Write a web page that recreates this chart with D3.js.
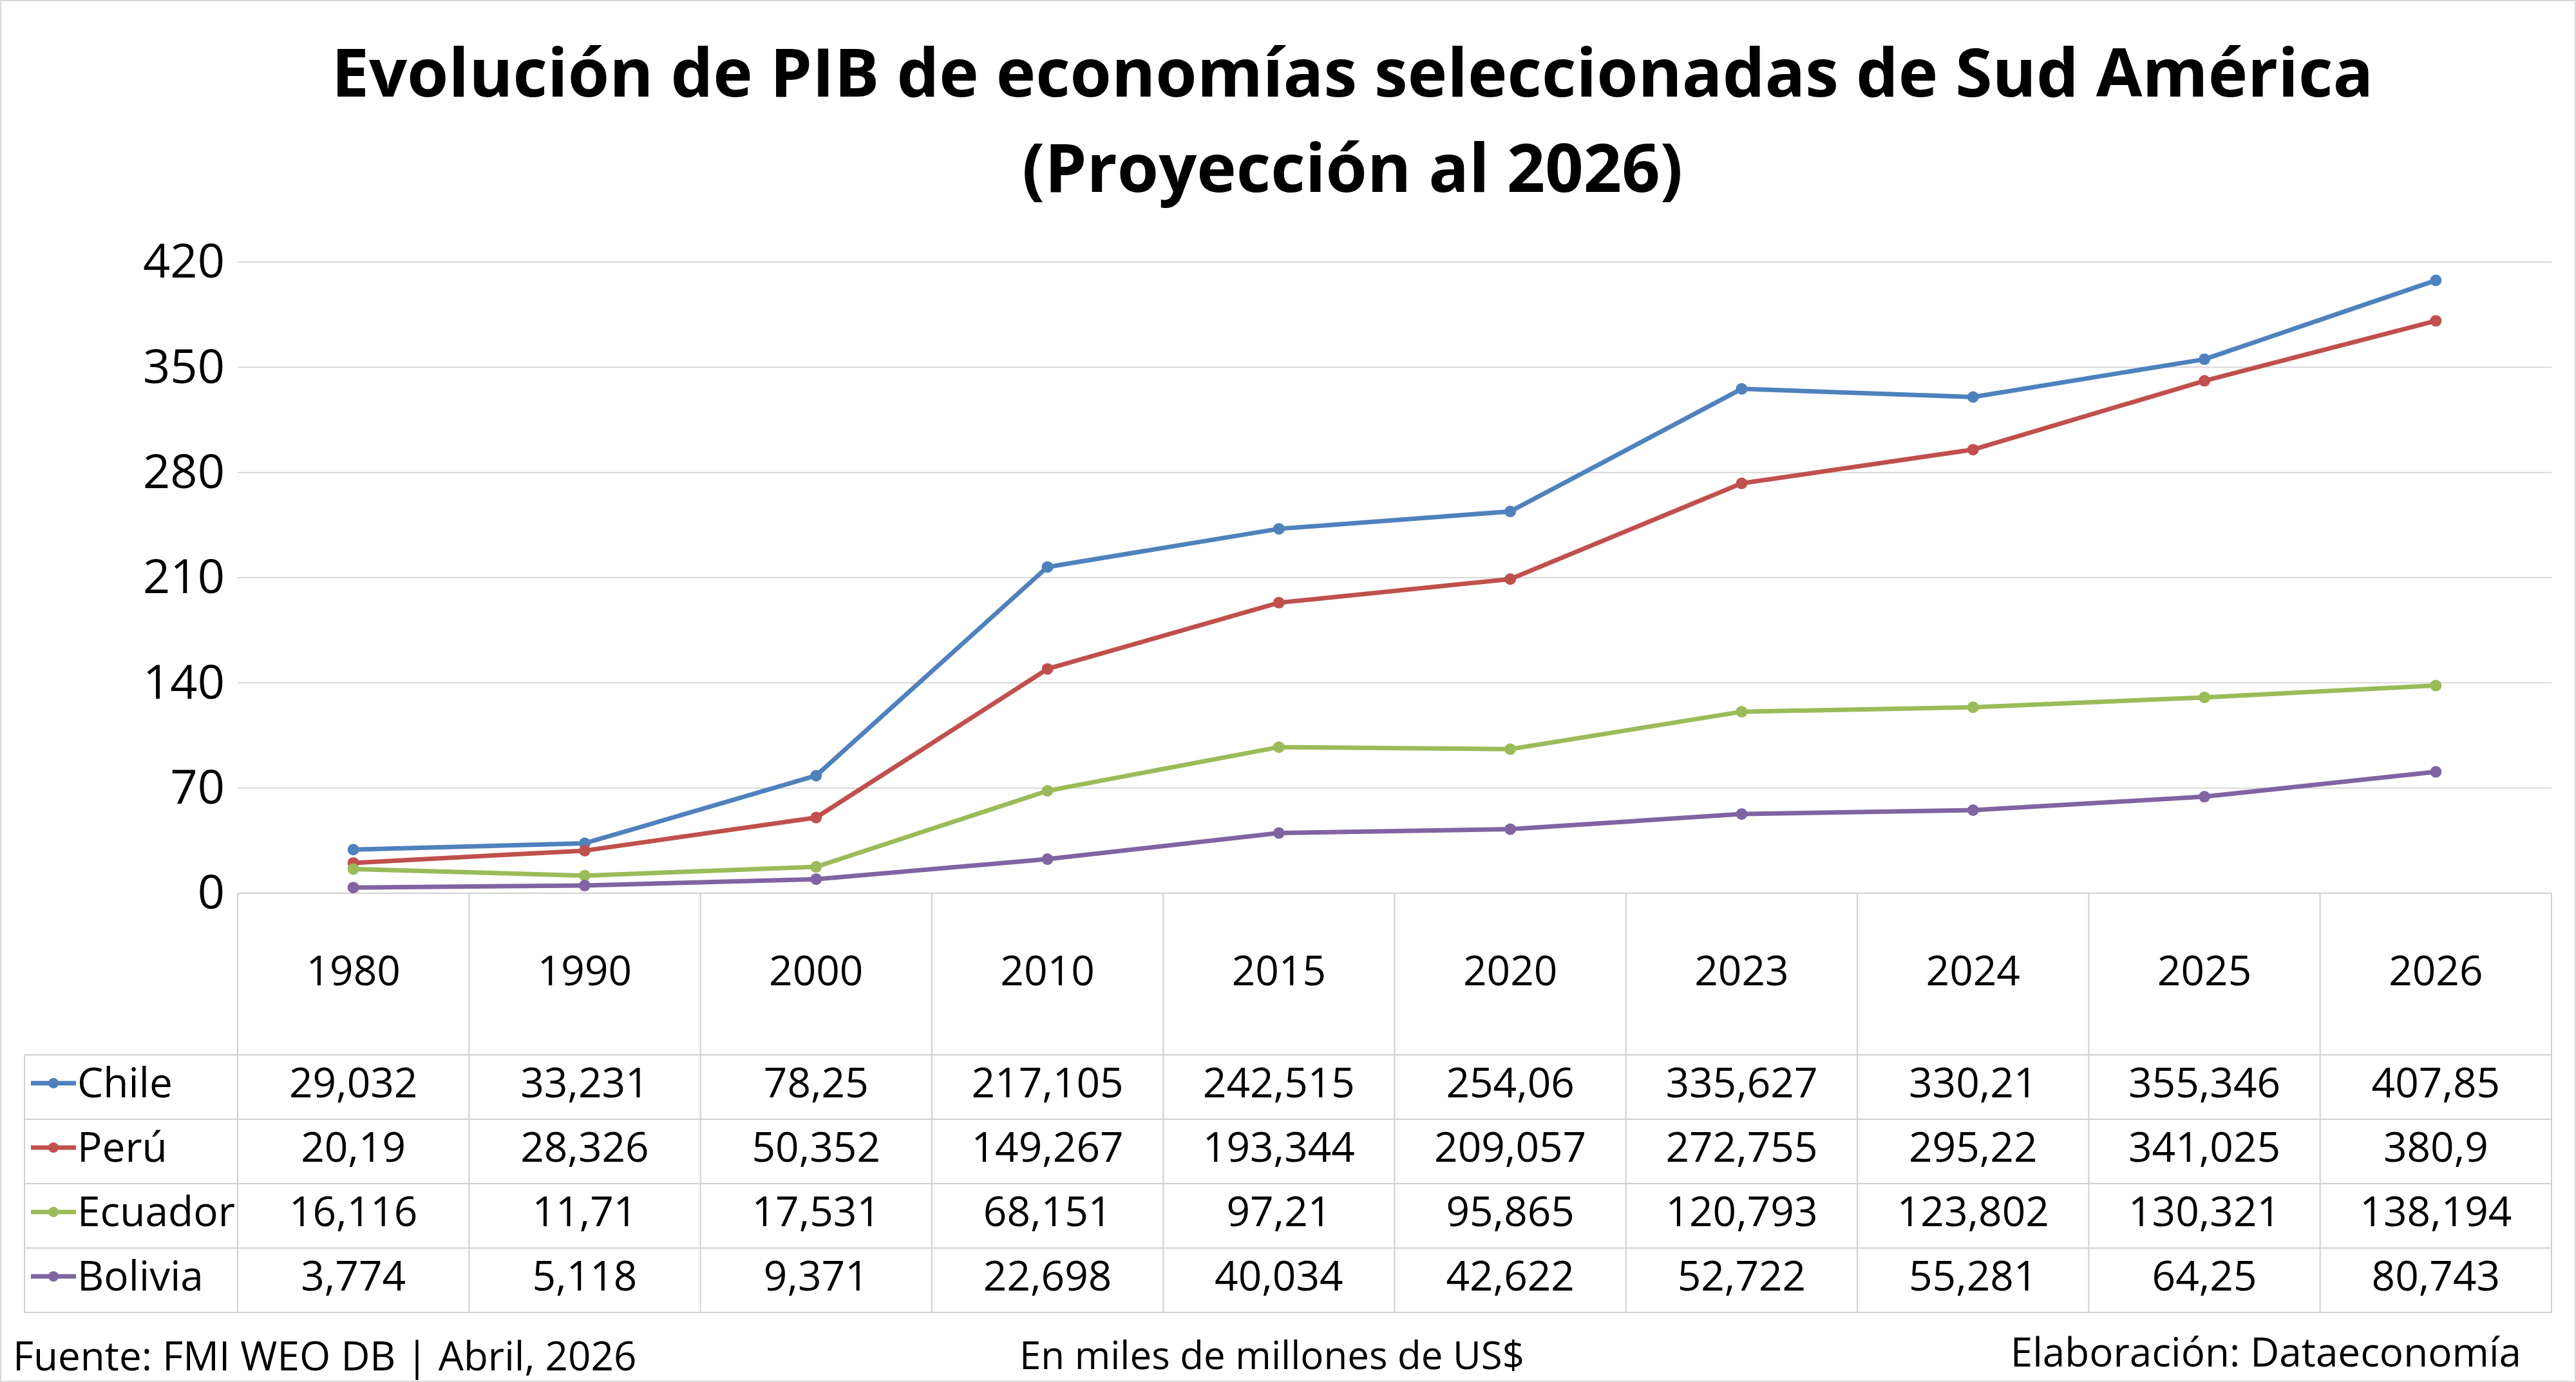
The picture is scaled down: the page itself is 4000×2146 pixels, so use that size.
<!DOCTYPE html>
<html><head><meta charset="utf-8">
<script src="https://d3js.org/d3.v7.min.js"></script>
<style>body{margin:0;background:#fff}svg{display:block;font-family:"Open Sans",sans-serif}</style>
</head><body>
<svg id="chart" width="4000" height="2146"></svg>
<script>
const years = ["1980","1990","2000","2010","2015","2020","2023","2024","2025","2026"];
const chile = [29.032,33.231,78.25,217.105,242.515,254.06,335.627,330.21,355.346,407.85];
const peru = [20.19,28.326,50.352,149.267,193.344,209.057,272.755,295.22,341.025,380.9];
const ecuador = [16.116,11.71,17.531,68.151,97.21,95.865,120.793,123.802,130.321,138.194];
const bolivia = [3.774,5.118,9.371,22.698,40.034,42.622,52.722,55.281,64.25,80.743];
const tableLabels = {
  Chile: ["29,032","33,231","78,25","217,105","242,515","254,06","335,627","330,21","355,346","407,85"],
  "Perú": ["20,19","28,326","50,352","149,267","193,344","209,057","272,755","295,22","341,025","380,9"],
  Ecuador: ["16,116","11,71","17,531","68,151","97,21","95,865","120,793","123,802","130,321","138,194"],
  Bolivia: ["3,774","5,118","9,371","22,698","40,034","42,622","52,722","55,281","64,25","80,743"]
};
const yTicks = [0,70,140,210,280,350,420];

const series = [
  {name:"Chile", values:chile, color:"#4F81BD"},
  {name:"Perú", values:peru, color:"#C0504D"},
  {name:"Ecuador", values:ecuador, color:"#9BBB59"},
  {name:"Bolivia", values:bolivia, color:"#8064A2"}
];

const svg = d3.select("#chart");
const L = 369, R = 3962, T = 407, B = 1387;
const tableLeft = 38, headerBottom = 1638, rowH = 100;

svg.append("rect").attr("x",1).attr("y",1).attr("width",3998).attr("height",2144)
  .attr("fill","none").attr("stroke","#d9d9d9").attr("stroke-width",2);

svg.append("text").attr("x",2100).attr("y",150).attr("text-anchor","middle")
  .attr("font-size",104).attr("font-weight",700)
  .text("Evolución de PIB de economías seleccionadas de Sud América");
svg.append("text").attr("x",2100).attr("y",298).attr("text-anchor","middle")
  .attr("font-size",104).attr("font-weight",700).text("(Proyección al 2026)");

const x = d3.scaleBand().domain(years).range([L,R]);
const y = d3.scaleLinear().domain([0,420]).range([B,T]);

// grid
svg.append("g").selectAll("line").data(yTicks.slice(1)).join("line")
  .attr("x1",L).attr("x2",R).attr("y1",d=>y(d)).attr("y2",d=>y(d))
  .attr("stroke","#d9d9d9").attr("stroke-width",2);

const yAxis = svg.append("g").attr("transform",`translate(${L},0)`)
  .call(d3.axisLeft(y).tickValues(yTicks).tickSize(0).tickPadding(70));
yAxis.select(".domain").remove();
yAxis.selectAll("text").attr("font-size",74).attr("fill","#000")
  .attr("font-family","'Open Sans',sans-serif").attr("text-anchor","end").attr("dx",50);

// table grid
const g = svg.append("g").attr("stroke","#d0d0d0").attr("stroke-width",2);
const bounds = years.map(d=>x(d)).concat([R]);
g.selectAll(".v").data(bounds).join("line")
  .attr("x1",d=>d).attr("x2",d=>d).attr("y1",B).attr("y2",headerBottom+rowH*4);
g.append("line").attr("x1",L).attr("x2",R).attr("y1",B).attr("y2",B);
g.selectAll(".h").data(d3.range(5)).join("line")
  .attr("x1",tableLeft).attr("x2",R)
  .attr("y1",d=>headerBottom+rowH*d).attr("y2",d=>headerBottom+rowH*d);
g.append("line").attr("x1",tableLeft).attr("x2",tableLeft)
  .attr("y1",headerBottom).attr("y2",headerBottom+rowH*4);

// header
svg.append("g").selectAll("text").data(years).join("text")
  .attr("x",d=>x(d)+x.bandwidth()/2).attr("y",1530).attr("text-anchor","middle")
  .attr("font-size",64).text(d=>d);

// rows
series.forEach((s,i)=>{
  const cy = headerBottom + rowH*i + rowH/2;
  svg.append("line").attr("x1",48).attr("x2",118).attr("y1",cy-6).attr("y2",cy-6)
    .attr("stroke",s.color).attr("stroke-width",7);
  svg.append("circle").attr("cx",83).attr("cy",cy-6).attr("r",8).attr("fill",s.color);
  svg.append("text").attr("x",120).attr("y",cy+16).attr("font-size",64).text(s.name);
  svg.append("g").selectAll("text").data(tableLabels[s.name]).join("text")
    .attr("x",(d,j)=>x(years[j])+x.bandwidth()/2).attr("y",cy+16)
    .attr("text-anchor","middle").attr("font-size",64).text(d=>d);
});

// lines
const line = d3.line().x((d,i)=>x(years[i])+x.bandwidth()/2).y(d=>y(d));
series.forEach(s=>{
  svg.append("path").datum(s.values).attr("d",line).attr("fill","none")
    .attr("stroke",s.color).attr("stroke-width",7).attr("stroke-linejoin","round");
  svg.append("g").selectAll("circle").data(s.values).join("circle")
    .attr("cx",(d,i)=>x(years[i])+x.bandwidth()/2).attr("cy",d=>y(d)).attr("r",9)
    .attr("fill",s.color);
});

// footer
svg.append("text").attr("x",20).attr("y",2128).attr("font-size",62).text("Fuente: FMI WEO DB | Abril, 2026");
svg.append("text").attr("x",1975).attr("y",2126).attr("text-anchor","middle").attr("font-size",60).text("En miles de millones de US$");
svg.append("text").attr("x",3915).attr("y",2122).attr("text-anchor","end").attr("font-size",62).text("Elaboración: Dataeconomía");
</script>
</body></html>
